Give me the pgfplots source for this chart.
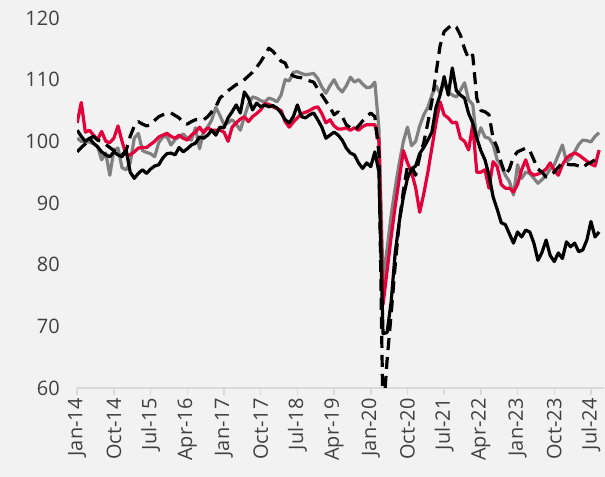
\documentclass[border=0pt]{standalone}
\usepackage{pgfplots}
\pgfplotsset{compat=1.18}
\usepackage{pgfplotstable}
\usepackage{fontspec}
\setmainfont{Open Sans}
\definecolor{bg}{RGB}{242,242,242}
\definecolor{myred}{RGB}{228,0,58}
\definecolor{mygray}{RGB}{128,128,128}
\definecolor{axisgray}{RGB}{217,217,217}
\definecolor{txt}{RGB}{64,64,64}

\pgfplotstableread{
i red black dashed gray
0 103 101.8 98.3 100.5
1 106.3 100.8 99 100
2 101.5 100 99.6 99.9
3 101.8 100.5 100.5 99.9
4 101 99.7 100.8 99.6
5 100.3 99.1 100.2 99.2
6 101.6 98.3 100 97
7 100 97.8 99.5 98.1
8 99.8 97.5 99 94.5
9 100.5 98.3 98.5 98.6
10 102.5 97.8 98 98.9
11 100 97.5 97.8 95.7
12 97.8 98.6 98.5 95.4
13 97.8 95 100.8 96.5
14 98.3 94 102.5 100.5
15 98.9 94.8 103.2 101.3
16 99 95.4 102.8 98.5
17 99 94.8 102.5 98.2
18 99.5 95.5 102.7 98
19 100 96 103.4 97.5
20 100.7 96.2 104 99.8
21 101 97.3 104.3 100.7
22 101.3 98 104.5 100.8
23 100.8 98.1 104.6 99.4
24 100.5 97.8 104.2 100.3
25 101 99 103.8 100.7
26 100.5 98.3 103 101.2
27 100.2 98.8 102.8 100.5
28 101 99.4 103.2 100.2
29 101.5 99.7 103.5 102.2
30 102.3 100.7 103.5 98.8
31 101.4 100.5 103.5 101.6
32 102.2 101 104 102.3
33 101.8 101.8 104.8 103.5
34 101.8 101 105.6 105.5
35 101.8 102.3 107 104.2
36 101.5 102.2 107.6 102.7
37 100 103.8 108.2 103
38 102.3 104.8 108.7 103.5
39 103 105.9 109.2 102.8
40 103.6 104.6 109.5 101.8
41 104 108 110 104
42 103.2 107 110.6 106
43 104 105.1 111.2 107.2
44 104.5 106.2 112 107
45 105.1 105.6 112.9 106.6
46 106.1 105.9 114 106.4
47 106 105.6 115.1 107
48 105.6 105.8 114.6 106.8
49 105.3 105.4 113.8 106.4
50 105 104.6 113 107.5
51 103.2 103.5 112.7 110
52 102.3 103 111.2 109.8
53 103.1 104 110.6 111.2
54 103.8 105.9 110.4 111.3
55 104.5 104 110.3 111
56 104.7 103.8 110 110.8
57 105 104.3 109.8 110.9
58 105.4 104.6 109.6 111
59 105.6 103.5 108.5 110.2
60 104.5 102.3 107.5 108.8
61 103 100.5 106.5 107.8
62 103.5 101 105.5 109
63 102.5 101.5 104.3 110
64 102 101 104.8 108.7
65 102 100.2 104 108
66 102.2 98.9 102.7 109
67 101.8 98.1 102.2 110.4
68 102.2 97.8 101.8 109.6
69 101.8 96.5 102.5 110
70 102.4 95.6 103.3 109.3
71 102.7 96.5 104 108.7
72 102.7 95.9 104.6 108.8
73 102.7 98.3 104 109.6
74 100 95 98 102
75 73.5 68.8 55 77.5
76 79 69 64.5 82.5
77 84.5 74 72 88
78 89.5 82 80 92.5
79 94 87 87 96.5
80 98.5 91 92 100
81 96.5 94 96 102.3
82 95 95.5 96 99.3
83 92.5 96 94.5 100
84 88.5 98 97.5 102.5
85 91.5 99 99.8 104.3
86 95 100.2 103 105.5
87 99 101.5 106.5 107.5
88 103 105.5 111 109
89 106.4 107.5 115.5 107.8
90 104.3 110.5 117.8 109.5
91 103.8 107.5 118.4 108
92 103 111.9 118.9 107.5
93 103.1 108.2 118.5 107.2
94 100.5 107.5 117.2 108.3
95 100 107 115 109.5
96 98.6 104.5 113.4 106.7
97 102.7 103 114 106
98 95 100.5 107 100.2
99 95 98.5 105 102.2
100 95.4 97 104.8 100.7
101 92.4 94.5 104.3 100.5
102 96.7 91 100.5 99.5
103 95.9 89 99 97
104 93 86.8 96.5 96
105 92.4 86.5 94.6 94.5
106 92.4 85 95.5 93.5
107 91.8 83.5 97.5 91.3
108 93 85.3 98.3 96.2
109 95.4 84.5 98.6 94
110 97 85.6 98.9 95
111 95 85.3 98.5 94.8
112 94.5 83.5 97 94
113 94.7 80.7 95.5 93.2
114 95 82 95 93.8
115 95.5 84 94.2 94.5
116 96.5 81.5 94.5 95.5
117 95.3 80.5 95 96.2
118 94.5 81.9 95.8 97.8
119 96.2 81 96.5 99.4
120 97.3 83.7 96.3 96.7
121 97.8 82.9 96.2 97.2
122 98.1 83.5 96.2 98.3
123 97.8 82.1 96 99.5
124 97.3 82.4 95.7 100.2
125 96.8 84 96.3 100.1
126 96.3 87 96.6 99.9
127 96 84.5 97 100.8
128 98.6 85.3 96.2 101.4
}\datatable

\begin{document}
\begin{tikzpicture}
\fill[bg] (-77.2bp,-89bp) rectangle (527.8bp,388bp);
\useasboundingbox (-77.2bp,-89bp) rectangle (527.8bp,388bp);
\begin{axis}[
  at={(0,0)}, anchor=south west,
  scale only axis, width=526.8bp, height=370bp,
  xmin=0, xmax=129.2, ymin=60, ymax=120,
  axis lines*=left,
  y axis line style={draw=none},
  x axis line style={draw=axisgray, line width=1.8bp},
  ytick={60,70,...,120},
  ytick style={draw=none},
  xtick={0,9,...,126},
  xticklabels={Jan-14,Oct-14,Jul-15,Apr-16,Jan-17,Oct-17,Jul-18,Apr-19,Jan-20,Oct-20,Jul-21,Apr-22,Jan-23,Oct-23,Jul-24},
  tick align=outside,
  major tick length=7bp,
  xtick style={draw=axisgray, line width=1.5bp},
  /pgf/number format/assume math mode=true,
  ticklabel style={font=\fontsize{20}{22}\selectfont, text=txt},
  xticklabel style={rotate=90, anchor=east, xshift=0bp},
  yticklabel style={anchor=east, xshift=-7bp},
  clip=true,
  every axis plot/.append style={line width=3.2bp, line join=round, mark=none},
]
\addplot[mygray] table[x=i, y=gray] {\datatable};
\addplot[myred] table[x=i, y=red] {\datatable};
\addplot[black] table[x=i, y=black] {\datatable};
\addplot[black, dash pattern=on 12bp off 7bp] table[x=i, y=dashed] {\datatable};
\end{axis}
\end{tikzpicture}
\end{document}
